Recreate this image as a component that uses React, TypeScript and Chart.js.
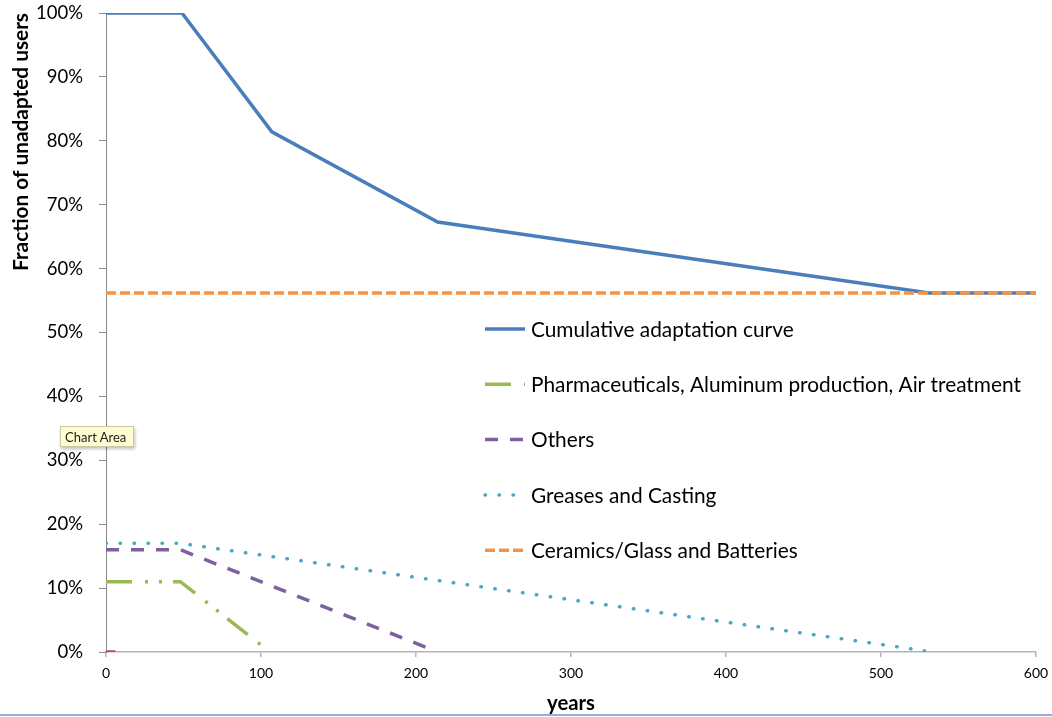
import React, { useEffect, useRef } from 'react';
import { Chart, registerables } from 'chart.js';

Chart.register(...registerables);

// ---- data ----
const cumulativeYears = [0, 49, 107, 214, 531, 600];
const cumulativeValues = [100, 100, 81.4, 67.3, 56.2, 56.2];

const pharmaYears = [0, 48, 100];
const pharmaValues = [11, 11, 1.1];

const othersYears = [0, 48, 210];
const othersValues = [16, 16, 0.4];

const greasesYears = [0, 48, 528];
const greasesValues = [17, 17, 0.2];

const ceramicsYears = [0, 600];
const ceramicsValues = [56.2, 56.2];

const residualYears = [0, 6];
const residualValues = [0, 0];

const seriesNames = [
  'Cumulative adaptation curve',
  'Pharmaceuticals, Aluminum production, Air treatment',
  'Others',
  'Greases and Casting',
  'Ceramics/Glass and Batteries',
];

const xTickValues = [0, 100, 200, 300, 400, 500, 600];
const yTickValues = [0, 10, 20, 30, 40, 50, 60, 70, 80, 90, 100];

const xAxisTitle = 'years';
const yAxisTitle = 'Fraction of unadapted users';

const FAMILY = 'Lato, "Noto Sans", sans-serif';

function toPoints(xs: number[], ys: number[]) {
  return xs.map((x, i) => ({ x, y: ys[i] }));
}

function fitSize(text: string, weight: string, target: number) {
  const c = document.createElement('canvas').getContext('2d')!;
  c.font = `${weight} 20px ${FAMILY}`;
  return (20 * target) / c.measureText(text).width;
}

const insideLegend = {
  id: 'insideLegend',
  afterDatasetsDraw(chart: any, _args: any, opts: any) {
    const ctx: CanvasRenderingContext2D = chart.ctx;
    const x0 = 485;
    const x1 = 525;
    const tx = 531;
    const y0 = 329;
    const dy = 55.3;
    ctx.save();
    chart.data.datasets.forEach((ds: any) => {
      if (ds.legendIndex === undefined) return;
      const y = y0 + ds.legendIndex * dy;
      ctx.beginPath();
      ctx.strokeStyle = ds.borderColor;
      ctx.lineWidth = ds.borderWidth;
      ctx.setLineDash(ds.borderDash || []);
      ctx.lineCap = ds.borderCapStyle || 'butt';
      ctx.moveTo(x0, y);
      ctx.lineTo(x1, y);
      ctx.stroke();
      ctx.setLineDash([]);
      ctx.fillStyle = '#000';
      ctx.font = `${opts.fontSize}px ${FAMILY}`;
      ctx.textBaseline = 'middle';
      ctx.textAlign = 'left';
      ctx.fillText(ds.label, tx, y + 1);
    });
    ctx.restore();
  },
};

export default function App() {
  const canvasRef = useRef<HTMLCanvasElement | null>(null);

  useEffect(() => {
    if (!canvasRef.current) return;
    const yTickSize = fitSize('100%', 'normal', 47);
    const yTitleSize = fitSize(yAxisTitle, 'bold', 258);
    const xTitleSize = fitSize(xAxisTitle, 'bold', 48);
    const legendSize = fitSize(seriesNames[1], 'normal', 490);

    const chart = new Chart(canvasRef.current, {
      type: 'line',
      data: {
        datasets: [
          {
            label: seriesNames[0],
            data: toPoints(cumulativeYears, cumulativeValues),
            borderColor: '#4A7EBB',
            borderWidth: 3.5,
            pointRadius: 0,
            order: 2,
            legendIndex: 0,
          } as any,
          {
            label: seriesNames[1],
            data: toPoints(pharmaYears, pharmaValues),
            borderColor: '#98B954',
            borderWidth: 3.5,
            borderDash: [26, 13, 3, 11, 3, 11],
            pointRadius: 0,
            order: 3,
            legendIndex: 1,
          } as any,
          {
            label: seriesNames[2],
            data: toPoints(othersYears, othersValues),
            borderColor: '#7D60A0',
            borderWidth: 3.5,
            borderDash: [13, 12],
            pointRadius: 0,
            order: 4,
            legendIndex: 2,
          } as any,
          {
            label: seriesNames[3],
            data: toPoints(greasesYears, greasesValues),
            borderColor: '#46AAC5',
            borderWidth: 3.5,
            borderDash: [0.5, 13.5],
            borderCapStyle: 'round',
            pointRadius: 0,
            order: 5,
            legendIndex: 3,
          } as any,
          {
            label: seriesNames[4],
            data: toPoints(ceramicsYears, ceramicsValues),
            borderColor: '#F69240',
            borderWidth: 3.5,
            borderDash: [10, 4],
            pointRadius: 0,
            order: 1,
            legendIndex: 4,
          } as any,
          {
            label: 'Series 6',
            data: toPoints(residualYears, residualValues),
            borderColor: '#BE4B48',
            borderWidth: 3.5,
            pointRadius: 0,
            order: 0,
          } as any,
        ],
      },
      options: {
        animation: false,
        responsive: false,
        devicePixelRatio: 1,
        layout: { padding: { top: 13, right: 16, left: 0, bottom: 0 } },
        plugins: {
          legend: { display: false },
          tooltip: { enabled: false },
          insideLegend: { fontSize: legendSize },
        } as any,
        elements: { line: { tension: 0 } },
        scales: {
          x: {
            type: 'linear',
            min: 0,
            max: 600,
            afterFit: (s: any) => {
              s.height = 65;
              s.paddingLeft = 0;
              s.paddingRight = 0;
            },
            afterBuildTicks: (s: any) => {
              s.ticks = xTickValues.map((v) => ({ value: v }));
            },
            grid: {
              display: true,
              drawOnChartArea: false,
              drawTicks: true,
              tickLength: 5,
              color: '#b4b4b4',
              lineWidth: 1.5,
            },
            border: { display: true, color: '#b4b4b4', width: 1.5 },
            ticks: {
              padding: 8,
              color: '#000',
              font: { family: FAMILY, size: 14 },
              maxRotation: 0,
            },
            title: {
              display: true,
              text: xAxisTitle,
              color: '#000',
              font: { family: FAMILY, size: xTitleSize, weight: 'bold', lineHeight: 1 },
              padding: { top: 0, bottom: 3.5 },
            },
          },
          y: {
            type: 'linear',
            min: 0,
            max: 100,
            afterFit: (s: any) => {
              s.width = 106;
              s.paddingTop = 0;
              s.paddingBottom = 0;
            },
            afterBuildTicks: (s: any) => {
              s.ticks = yTickValues.map((v) => ({ value: v }));
            },
            grid: {
              display: true,
              drawOnChartArea: false,
              drawTicks: true,
              tickLength: 7,
              color: '#8a8a8a',
            },
            border: { display: true, color: '#8a8a8a', width: 1 },
            ticks: {
              padding: 16,
              color: '#000',
              font: { family: FAMILY, size: yTickSize },
              callback: (v: any) => `${v}%`,
            },
            title: {
              display: true,
              text: yAxisTitle,
              align: 'end',
              color: '#000',
              font: { family: FAMILY, size: yTitleSize, weight: 'bold', lineHeight: 1 },
              padding: { top: 11, bottom: 0 },
            },
          },
        },
      } as any,
      plugins: [insideLegend as any],
    });
    return () => chart.destroy();
  }, []);

  return (
    <div
      style={{
        position: 'fixed',
        left: 0,
        top: 0,
        width: 1052,
        height: 717,
        background: '#fff',
        overflow: 'hidden',
      }}
    >
      <canvas ref={canvasRef} width={1052} height={717} style={{ position: 'absolute', left: 0, top: 0 }} />
      <div
        style={{
          position: 'absolute',
          left: 60,
          top: 426,
          width: 74,
          height: 21,
          background: '#fdfdcf',
          border: '1px solid #c9c9a8',
          boxShadow: '1px 2px 3px rgba(0,0,0,0.25)',
          fontFamily: FAMILY,
          fontSize: 13,
          lineHeight: '21px',
          color: '#222',
          paddingLeft: 4,
          boxSizing: 'border-box',
          whiteSpace: 'nowrap',
        }}
      >
        Chart Area
      </div>
      <div
        style={{
          position: 'absolute',
          left: 0,
          top: 714,
          width: 1052,
          height: 2,
          background: '#a2acd0',
        }}
      />
    </div>
  );
}
